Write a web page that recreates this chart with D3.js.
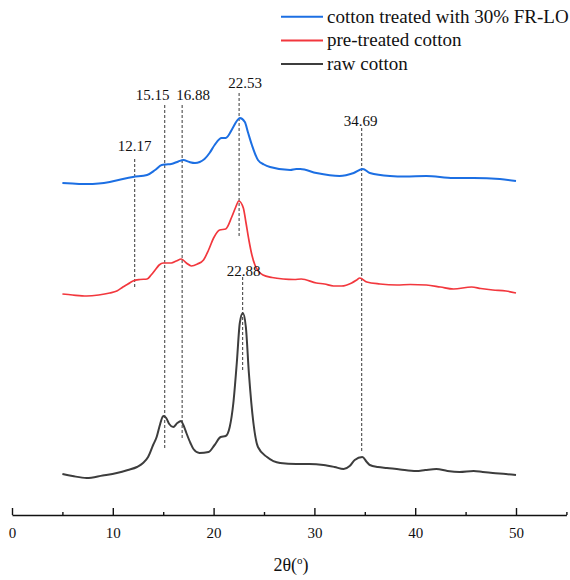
<!DOCTYPE html>
<html>
<head>
<meta charset="utf-8">
<script src="https://cdn.jsdelivr.net/npm/d3@7"></script>
<style>
  html, body { margin: 0; padding: 0; background: #fff; }
  svg { display: block; }
</style>
</head>
<body>
<svg id="chart" width="570" height="580" font-family="Liberation Serif"></svg>
<script>
// ---- DATA (2θ in degrees, intensity in arbitrary units incl. stacking offset) ----
const rawTheta = [5.0,6.0,7.4,9.0,10.4,11.5,12.4,13.0,13.5,14.0,14.35,14.7,15.0,15.3,15.6,16.0,16.4,16.77,17.0,17.3,17.7,18.0,18.6,19.5,20.1,20.7,21.2,21.6,21.96,22.3,22.6,22.9,23.2,23.5,23.95,24.4,25.3,26.6,28.2,29.5,30.9,32.0,32.9,33.5,34.0,34.75,35.2,35.5,36.3,37.2,38.5,40.1,41.0,42.1,43.2,44.4,45.8,46.7,47.7,49.0,50.0];
const rawIntensity = [41,39,37,39.5,42,45,48,52,58,70,78,91,99,97,91,88,92,94,90,82,72,66,62,63,70,78,79,88,112,152,192,202,188,142,92,68,58,52,51,51,50,48,46,49,55,58,53,50,48,47,45.5,44,45,46,44,43,44,43,42,41,40];

const preTheta = [5.0,6.0,7.4,8.6,9.7,10.4,11.0,11.5,12.0,12.7,13.4,13.8,14.2,14.6,15.0,15.4,15.8,16.3,16.8,17.3,17.8,18.4,19.0,19.5,20.0,20.6,21.2,21.8,22.2,22.5,22.95,23.2,23.5,23.8,24.1,24.9,25.8,26.9,28.0,28.7,30.2,31.0,31.9,32.7,33.7,34.2,34.5,35.2,36.5,38.2,39.5,41.1,42.5,43.8,45.6,46.5,47.7,49.0,50.0];
const preIntensity = [221,220,219,220,222,224,228,231,234,235.5,236,240,245,250,252,252,252,254,256,252,249,251,255,265,277,285,286,298,308,314,307,293,275,260,250,240,237.5,236,235.5,236,232,231,229,229,232,235,237,233,231,230,230.5,230,228,226,228,226.5,225,224,222];

const frTheta = [5.0,6.0,7.4,8.6,9.7,11.0,12.0,13.4,14.2,14.85,15.3,15.8,16.5,17.0,17.6,18.15,19.1,19.6,20.1,20.8,21.2,21.9,22.3,22.6,23.1,23.4,23.8,24.4,25.0,25.6,27.6,28.2,28.6,30.2,32.5,33.9,34.8,35.5,37.5,39.0,41.1,43.8,45.8,48.4,50.0];
const frIntensity = [332,331.5,331,331.5,333,336,338,340,345,350,350.5,351,353.5,355,353,352,356,362,370,377,377,387,394,397,393,383,370,355,350.5,348,345,346,346,342,339,342,346,342,339,338.5,339,337,337,336,334];

const seriesNames = ["cotton treated with 30% FR-LO", "pre-treated cotton", "raw cotton"];

// peak markers: position, dashed-line extent (intensity units)
const peakValues = [12.17, 15.15, 16.88, 22.53, 34.69, 22.88];
const peakLabels = ["12.17", "15.15", "16.88", "22.53", "34.69", "22.88"];
const peakTop    = [356, 410, 410, 422, 387, 238];
const peakBottom = [226, 67, 77, 278, 62, 145];

const majorTicks = [0, 10, 20, 30, 40, 50];
const minorTicks = [5, 15, 25, 35, 45, 55];
const xDomain = [0, 55];
const yDomain = [0, 500];

// ---- LAYOUT / STYLE ----
const FONT = "Liberation Serif";
const colors = ["#1c6fe3", "#f2373d", "#3d3d3d"];
const widths = [2, 1.7, 2];
const labelDx = [0, -12, 11, 6, -1, 1];          // label centre offset from line (px)
const labelDy = [-8.5, -5, -5, -5, -2, -1];      // label baseline offset from line top (px)

const svg = d3.select("#chart");
const x = d3.scaleLinear().domain(xDomain).range([12, 566.4]);
const y = d3.scaleLinear().domain(yDomain).range([515, 15]);

// dashed peak lines
const peaks = peakValues.map((v, i) => ({v, label: peakLabels[i], top: peakTop[i], bottom: peakBottom[i], i}));
svg.append("g").selectAll("line").data(peaks).join("line")
  .attr("x1", d => x(d.v)).attr("x2", d => x(d.v))
  .attr("y1", d => y(d.top)).attr("y2", d => y(d.bottom))
  .attr("stroke", "#4a4a4a").attr("stroke-width", 1.1)
  .attr("stroke-dasharray", "3,2");

// curves
const series = [
  {theta: frTheta, I: frIntensity},
  {theta: preTheta, I: preIntensity},
  {theta: rawTheta, I: rawIntensity}
];
const line = d3.line().x(d => x(d[0])).y(d => y(d[1])).curve(d3.curveMonotoneX);
series.forEach((s, k) => {
  const pts = s.theta.map((t, j) => [t, s.I[j]]);
  svg.append("path").datum(pts)
    .attr("d", line)
    .attr("fill", "none")
    .attr("stroke", colors[k])
    .attr("stroke-width", widths[k])
    .attr("stroke-linejoin", "round");
});

svg.append("g").selectAll("text").data(peaks).join("text")
  .attr("x", d => x(d.v) + labelDx[d.i])
  .attr("y", d => y(d.top) + labelDy[d.i])
  .attr("text-anchor", "middle")
  .attr("font-family", FONT)
  .attr("font-size", 15)
  .attr("fill", "#111")
  .text(d => d.label);

// x axis
const axisG = svg.append("g").attr("transform", "translate(0,515)");
axisG.call(d3.axisBottom(x).tickValues(majorTicks).tickSize(-7).tickSizeOuter(0).tickPadding(12.5).tickFormat(d3.format("d")));
axisG.attr("font-family", FONT);
axisG.select(".domain").attr("stroke", "#111").attr("stroke-width", 1.6);
axisG.selectAll(".tick line").attr("stroke", "#111").attr("stroke-width", 1.4);
axisG.selectAll(".tick text").attr("font-size", 15).attr("font-family", FONT).attr("fill", "#111");

const minorG = svg.append("g").attr("transform", "translate(0,515)");
minorG.call(d3.axisBottom(x).tickValues(minorTicks).tickSize(-3).tickSizeOuter(0).tickFormat(""));
minorG.select(".domain").remove();
minorG.selectAll(".tick line").attr("stroke", "#111").attr("stroke-width", 1.4);

// axis title 2θ(°)
const title = svg.append("text").attr("x", 291).attr("y", 571).attr("text-anchor", "middle")
  .attr("font-family", FONT).attr("font-size", 18).attr("fill", "#111");
title.append("tspan").text("2θ(");
title.append("tspan").attr("font-size", 11).attr("dy", -7).text("o");
title.append("tspan").attr("dy", 7).text(")");

// legend
const leg = svg.append("g");
seriesNames.forEach((name, k) => {
  const ly = 16.7 + k * 23.7;
  leg.append("line").attr("x1", 281).attr("x2", 323).attr("y1", ly).attr("y2", ly)
    .attr("stroke", colors[k]).attr("stroke-width", 2);
  leg.append("text").attr("x", 327).attr("y", ly + 6)
    .attr("font-family", FONT).attr("font-size", 19).attr("fill", "#111").text(name);
});
</script>
</body>
</html>
